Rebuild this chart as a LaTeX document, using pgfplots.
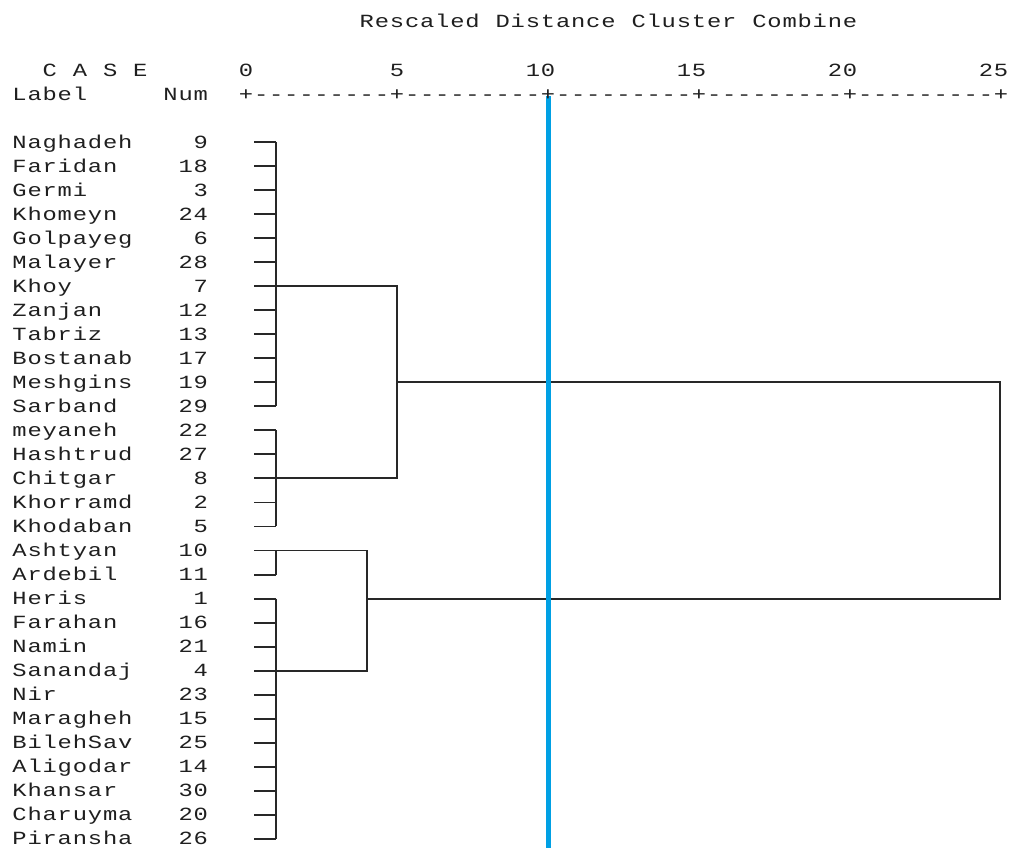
\documentclass[border=0pt]{standalone}
\usepackage{fontspec}
\setmonofont{Liberation Mono}
\usepackage{graphicx}
\usepackage{pgfplots}
\pgfplotsset{compat=1.18}
\definecolor{cutblue}{RGB}{0,160,228}
\definecolor{dend}{RGB}{40,40,40}
\newlength\cw \setlength\cw{7.55pt}
\makeatletter
\def\gr#1{\gr@loop#1\relax}
\def\gr@loop#1{\ifx\relax#1\else\makebox[\cw]{\scalebox{1.28}[1]{#1}}\expandafter\gr@loop\fi}
\makeatother
\begin{document}
\begin{tikzpicture}
\path[use as bounding box] (0,0) rectangle (505.5pt,424pt);
\begin{axis}[at={(0,0)}, anchor=south west,
  width=505.5pt, height=424pt, scale only axis,
  xmin=-8.1126, xmax=25.364, ymin=-4.909, ymax=30.380,
  y dir=reverse, hide axis, clip=false, unbounded coords=jump]
% leaf stubs
\addplot[dend, line width=0.95pt] table[row sep=\\] {
x y\\
0.3 1\\ 1.03 1\\ nan nan\\ 0.3 2\\ 1.03 2\\ nan nan\\ 0.3 3\\ 1.03 3\\ nan nan\\
0.3 4\\ 1.03 4\\ nan nan\\ 0.3 5\\ 1.03 5\\ nan nan\\ 0.3 6\\ 1.03 6\\ nan nan\\
0.3 7\\ 1.03 7\\ nan nan\\ 0.3 8\\ 1.03 8\\ nan nan\\ 0.3 9\\ 1.03 9\\ nan nan\\
0.3 10\\ 1.03 10\\ nan nan\\ 0.3 11\\ 1.03 11\\ nan nan\\ 0.3 12\\ 1.03 12\\ nan nan\\
0.3 13\\ 1.03 13\\ nan nan\\ 0.3 14\\ 1.03 14\\ nan nan\\ 0.3 15\\ 1.03 15\\ nan nan\\
0.3 16\\ 1.03 16\\ nan nan\\ 0.3 17\\ 1.03 17\\ nan nan\\ 0.3 18\\ 1.03 18\\ nan nan\\
0.3 19\\ 1.03 19\\ nan nan\\ 0.3 20\\ 1.03 20\\ nan nan\\ 0.3 21\\ 1.03 21\\ nan nan\\
0.3 22\\ 1.03 22\\ nan nan\\ 0.3 23\\ 1.03 23\\ nan nan\\ 0.3 24\\ 1.03 24\\ nan nan\\
0.3 25\\ 1.03 25\\ nan nan\\ 0.3 26\\ 1.03 26\\ nan nan\\ 0.3 27\\ 1.03 27\\ nan nan\\
0.3 28\\ 1.03 28\\ nan nan\\ 0.3 29\\ 1.03 29\\ nan nan\\ 0.3 30\\ 1.03 30\\
};
% first-level joins
\addplot[dend, line width=0.95pt] coordinates {(1.03,1) (1.03,12)};
\addplot[dend, line width=0.95pt] coordinates {(1.03,13) (1.03,17)};
\addplot[dend, line width=0.95pt] coordinates {(1.03,18) (1.03,19)};
\addplot[dend, line width=0.95pt] coordinates {(1.03,20) (1.03,30)};
% upper cluster
\addplot[dend, line width=0.95pt] coordinates {(1.03,7) (5.03,7) (5.03,15) (1.03,15)};
\addplot[dend, line width=0.95pt] coordinates {(5.03,11) (25,11) (25,20) (4.03,20)};
% lower cluster
\addplot[dend, line width=0.95pt] coordinates {(1.03,18) (4.03,18) (4.03,23) (1.03,23)};
% cut line
\addplot[cutblue, line width=2.5pt] coordinates {(10.05,-0.914) (10.05,30.38)};
\end{axis}
\begin{scope}[every node/.style={inner sep=0pt, outer sep=0pt, font=\ttfamily\fontsize{9.3}{12}\selectfont, text=black!88}]
\node[anchor=base west] at (179.65pt, {(848-21.85-6.1)*0.5pt}) {\gr{Rescaled~Distance~Cluster~Combine}};
\node[anchor=base west] at (6pt, {(848-69.94-6.1)*0.5pt}) {\gr{~~C~A~S~E~~~~~~0~~~~~~~~~5~~~~~~~~10~~~~~~~~15~~~~~~~~20~~~~~~~~25}};
\node[anchor=base west] at (6pt, {(848-93.97-6.1)*0.5pt}) {\gr{Label~~~~~Num~~+---------+---------+---------+---------+---------+}};
\foreach \n/\k [count=\i] in {Naghadeh/9, Faridan/18, Germi/3, Khomeyn/24, Golpayeg/6, Malayer/28, Khoy/7, Zanjan/12, Tabriz/13, Bostanab/17, Meshgins/19, Sarband/29, meyaneh/22, Hashtrud/27, Chitgar/8, Khorramd/2, Khodaban/5, Ashtyan/10, Ardebil/11, Heris/1, Farahan/16, Namin/21, Sanandaj/4, Nir/23, Maragheh/15, BilehSav/25, Aligodar/14, Khansar/30, Charuyma/20, Piransha/26}{
  \pgfmathsetmacro\yy{(848-(142+24.03*(\i-1)+6.1))*0.5}
  \node[anchor=base west] at (6pt,\yy pt) {\expandafter\gr\expandafter{\n}};
  \node[anchor=base east] at (104.15pt,\yy pt) {\expandafter\gr\expandafter{\k}};
}
\end{scope}
\end{tikzpicture}
\end{document}
